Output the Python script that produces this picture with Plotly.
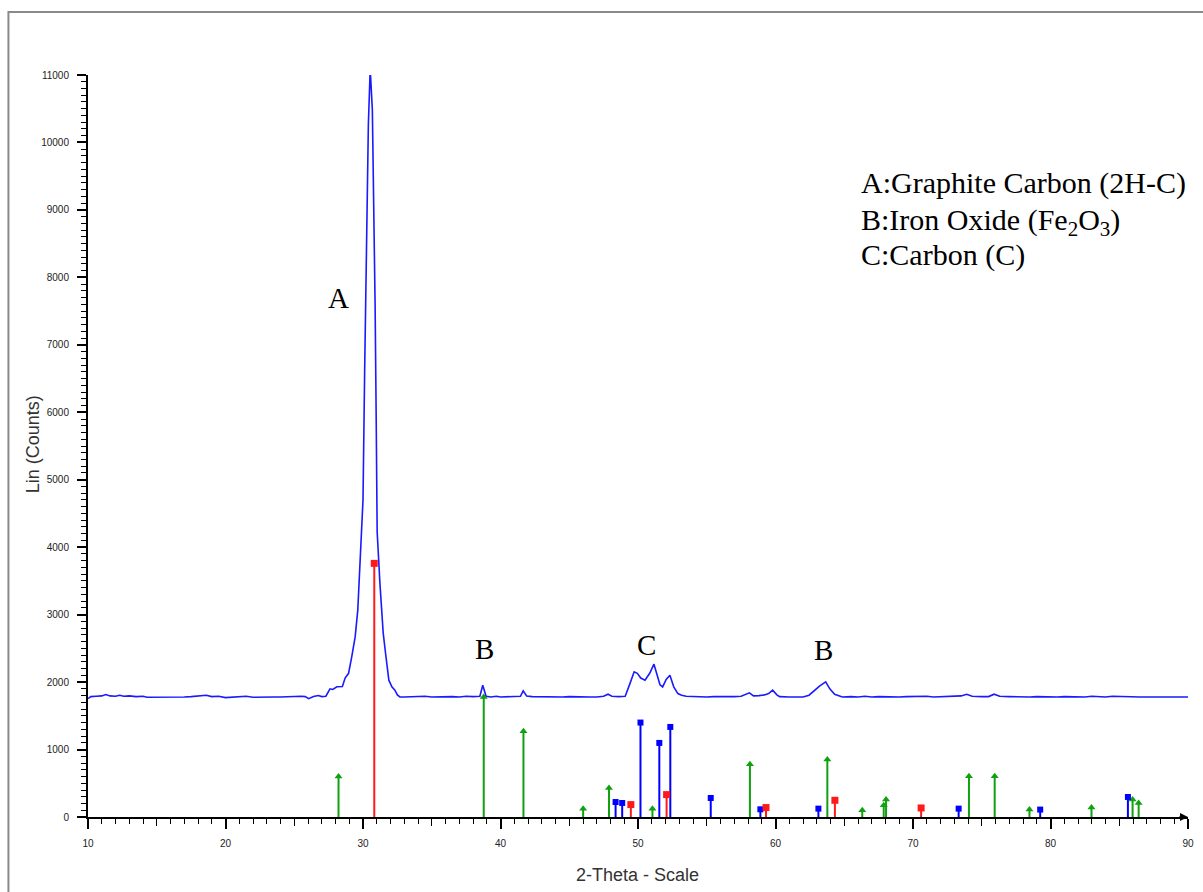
import plotly.graph_objects as go

# ---- XRD pattern (2-theta, counts) ----
xrd_2theta = [10.0,10.2,10.6,11.0,11.3,11.6,12.0,12.3,12.6,13.0,13.5,14.0,14.3,15.0,15.5,16.0,16.5,17.0,17.5,18.0,18.6,19.0,19.5,20.0,20.5,21.0,21.5,22.0,22.5,23.0,23.5,24.0,24.5,25.0,25.5,25.8,26.05,26.4,26.75,27.0,27.3,27.6,27.8,28.1,28.5,28.7,28.95,29.18,29.43,29.62,29.79,29.9,30.0,30.12,30.27,30.39,30.51,30.55,30.68,30.82,30.88,30.96,31.03,31.23,31.47,31.64,31.88,32.1,32.32,32.5,32.68,33.0,33.5,34.0,34.5,35.0,35.5,36.0,36.5,37.0,37.5,38.0,38.5,38.71,38.95,39.3,39.7,40.0,40.5,41.0,41.45,41.65,41.9,42.3,43.0,43.5,44.0,44.5,45.0,45.5,46.0,46.5,47.0,47.5,47.82,48.1,48.6,49.07,49.4,49.72,49.95,50.2,50.51,50.85,51.16,51.4,51.6,51.79,52.05,52.32,52.6,52.9,53.17,53.5,54.0,54.5,55.0,55.5,56.0,56.5,57.0,57.5,58.1,58.4,58.8,59.2,59.5,59.79,60.1,60.3,61.0,61.5,62.0,62.44,62.8,63.2,63.65,63.95,64.3,64.86,65.5,66.0,66.5,67.0,67.5,68.0,68.5,69.0,69.5,70.0,70.5,71.0,71.5,72.0,72.5,73.0,73.5,73.9,74.3,75.0,75.5,75.9,76.3,77.0,77.5,78.0,78.5,79.0,79.5,80.0,80.5,81.0,81.5,82.0,82.5,83.0,83.5,84.0,84.5,85.0,85.5,86.0,86.5,87.0,87.5,88.0,88.5,89.0,89.5,90.0]
xrd_counts = [1755,1785,1790,1795,1815,1795,1790,1805,1790,1795,1785,1790,1775,1775,1770,1775,1770,1780,1785,1790,1805,1785,1790,1770,1775,1785,1790,1775,1780,1785,1780,1780,1785,1780,1790,1785,1755,1785,1800,1785,1790,1900,1890,1930,1935,2060,2130,2374,2670,3067,3709,4209,4700,6600,9125,10263,11000,10990,10485,8902,7600,5900,4228,3467,2725,2428,2028,1930,1880,1810,1780,1780,1785,1780,1790,1780,1785,1780,1785,1780,1790,1785,1790,1954,1790,1780,1790,1780,1785,1780,1790,1870,1795,1785,1780,1785,1780,1780,1785,1780,1785,1780,1780,1790,1820,1790,1785,1790,1970,2152,2130,2060,2028,2130,2266,2110,1960,1929,2040,2102,1930,1830,1806,1790,1785,1790,1780,1785,1780,1785,1785,1790,1840,1795,1800,1810,1830,1880,1810,1785,1780,1785,1780,1806,1870,1940,2003,1900,1820,1780,1785,1780,1790,1780,1785,1780,1785,1780,1785,1790,1785,1790,1780,1785,1780,1790,1795,1820,1790,1785,1785,1820,1790,1785,1780,1785,1780,1785,1780,1785,1780,1785,1780,1785,1780,1790,1785,1780,1790,1785,1780,1780,1780,1780,1785,1780,1780,1785,1780,1780]

# ---- reference stick patterns ----
green_pos = [28.22, 38.78, 41.67, 46.01, 47.89, 51.05, 58.14, 63.77, 66.31, 67.87, 68.04, 74.07, 75.94, 78.47, 82.98, 85.97, 86.41]
green_int = [600, 1780, 1270, 124, 430, 124, 782, 851, 99, 173, 258, 604, 604, 110, 140, 258, 208]
blue_pos = [48.37, 48.85, 50.18, 51.55, 52.35, 55.29, 58.90, 63.12, 73.32, 79.25, 85.63]
blue_int = [222, 208, 1400, 1098, 1335, 282, 114, 124, 124, 110, 297]
red_pos = [30.82, 49.48, 52.08, 59.31, 64.32, 70.59]
red_int = [3760, 184, 332, 140, 248, 134]

peak_labels = ["A", "B", "C", "B"]
peak_label_x = [28.25, 38.8, 50.65, 63.5]
peak_label_y = [7690, 2490, 2555, 2470]

legend_lines = ["A:Graphite Carbon (2H-C)",
                "B:Iron Oxide (Fe<sub>2</sub>O<sub>3</sub>)",
                "C:Carbon (C)"]

x_ticks = [10, 20, 30, 40, 50, 60, 70, 80, 90]
y_ticks = list(range(0, 11001, 1000))


def sticks(pos, inten):
    xs, ys = [], []
    for p, v in zip(pos, inten):
        xs += [p, p, None]
        ys += [0, v, None]
    return xs, ys


fig = go.Figure()
fig.add_trace(go.Scatter(x=xrd_2theta, y=xrd_counts, mode="lines",
                         line=dict(color="#1a1aff", width=1.6), cliponaxis=False))

for pos, inten, col, sym, sz in [
    (green_pos, green_int, "#10a010", "triangle-up", 7),
    (blue_pos, blue_int, "#0000ff", "square", 6),
    (red_pos, red_int, "#ff1a1a", "square", 7),
]:
    sx, sy = sticks(pos, inten)
    fig.add_trace(go.Scatter(x=sx, y=sy, mode="lines",
                             line=dict(color=col, width=2)))
    fig.add_trace(go.Scatter(x=pos, y=inten, mode="markers",
                             marker=dict(color=col, symbol=sym, size=sz, line=dict(width=0))))

# medium ticks at the fives via an overlaid axis
fig.add_trace(go.Scatter(x=[10, 90], y=[0, 0], mode="markers",
                         marker=dict(opacity=0), xaxis="x2", hoverinfo="skip"))

tickfont = dict(family="Liberation Sans, Arial", size=10, color="#222")
fig.update_layout(
    width=1203, height=892,
    margin=dict(l=88, r=9, t=75, b=75),
    paper_bgcolor="white", plot_bgcolor="white",
    showlegend=False,
    xaxis=dict(range=[10, 90], tickvals=x_ticks, showline=True, linecolor="black",
               linewidth=2, ticks="outside", ticklen=10, tickwidth=1.5, tickcolor="black",
               minor=dict(dtick=1, tick0=10, ticks="outside", ticklen=5, tickwidth=1, tickcolor="black"),
               showgrid=False, zeroline=False, tickfont=tickfont, ticklabelstandoff=6),
    xaxis2=dict(range=[10, 90], overlaying="x", side="bottom", anchor="y",
                tickvals=[15, 25, 35, 45, 55, 65, 75, 85], ticktext=[""] * 8,
                ticks="outside", ticklen=8, tickwidth=1.3, tickcolor="black",
                showline=False, showgrid=False, zeroline=False),
    yaxis=dict(range=[0, 11000], tickvals=y_ticks, tickformat="d", showline=True, linecolor="black",
               linewidth=2, ticks="outside", ticklen=9, tickwidth=1.5, tickcolor="black",
               minor=dict(dtick=100, tick0=0, ticks="outside", ticklen=5, tickwidth=1, tickcolor="black"),
               showgrid=False, zeroline=False, tickfont=tickfont, ticklabelstandoff=6),
)

# outer gray frame
fig.add_shape(type="rect", xref="paper", yref="paper",
              x0=(8 - 88) / 1106, x1=1.2, y0=-0.2, y1=(817 - 12) / 742,
              line=dict(color="#8a8a8a", width=2), fillcolor="rgba(0,0,0,0)", layer="below")

# small arrowhead at end of x axis
fig.add_annotation(x=90, y=0, ax=-10, ay=0, text="", showarrow=True,
                   arrowhead=2, arrowsize=0.8, arrowwidth=2, arrowcolor="black")

serif = "Liberation Serif, Times New Roman, serif"
for t, xx, yy in zip(peak_labels, peak_label_x, peak_label_y):
    fig.add_annotation(x=xx, y=yy, text=t, showarrow=False, xanchor="center", yanchor="middle",
                       font=dict(family=serif, size=29, color="black"))

legend_y = [183, 221.5, 255]
for line, py in zip(legend_lines, legend_y):
    fig.add_annotation(xref="paper", yref="paper", x=(863 - 88) / 1106, y=(817 - py) / 742,
                       xanchor="left", yanchor="middle", text=line, showarrow=False,
                       font=dict(family=serif, size=30, color="black"))

fig.add_annotation(xref="paper", yref="paper", x=(640 - 88) / 1106, y=(817 - 875) / 742,
                   xanchor="center", yanchor="middle",
                   text="2-Theta - Scale", showarrow=False,
                   font=dict(family="Liberation Sans, Arial", size=18, color="#333"))
fig.add_annotation(xref="paper", yref="paper", x=(33 - 88) / 1106, y=(817 - 444) / 742,
                   xanchor="center", yanchor="middle",
                   text="Lin (Counts)", showarrow=False, textangle=-90,
                   font=dict(family="Liberation Sans, Arial", size=18, color="#333"))

fig.write_html("out.html")
